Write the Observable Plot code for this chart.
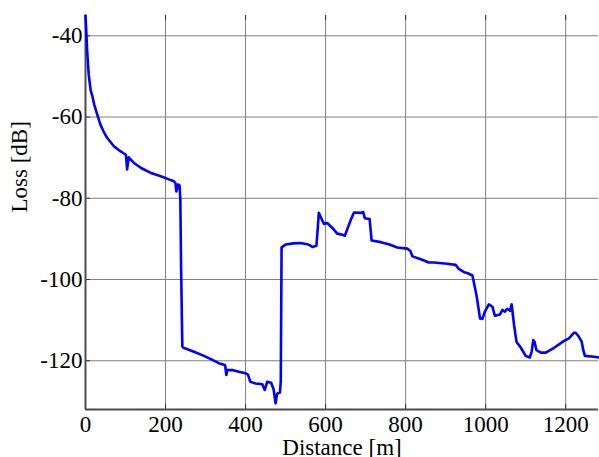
<!DOCTYPE html>
<html>
<head>
<meta charset="utf-8">
<script src="https://cdn.jsdelivr.net/npm/d3@7"></script>
<script src="https://cdn.jsdelivr.net/npm/@observablehq/plot@0.6"></script>
<style>
  html, body { margin: 0; padding: 0; background: #fff; }
  #chart svg { display: block; }
</style>
</head>
<body>
<div id="chart"></div>
<script>
const distance = [0,2,4,8,13,17,22,29,37,45,54,71,87,98,101,104,108,121,140,162,188,210,221,225,227,231,235,237,239,242,245,271,296,317,333,346,349,352,354,367,383,400,406,412,425,442,448,454,464,470,475,479,486,488,490,500,520,537,554,561,567,577,580,583,591,596,604,617,629,642,648,654,663,671,688,694,698,710,715,738,758,779,804,812,817,838,858,871,904,925,933,946,954,967,971,977,982,986,992,998,1008,1017,1023,1036,1042,1048,1054,1061,1065,1071,1077,1088,1100,1110,1115,1119,1122,1127,1138,1150,1171,1196,1208,1221,1225,1233,1240,1244,1248,1271,1282];
const loss = [-35,-39,-43.5,-49.5,-53.5,-54.8,-57,-59.3,-61.8,-63.5,-65.1,-67.2,-68.4,-69.1,-69.3,-72.9,-69.9,-71.3,-72.6,-73.7,-74.6,-75.4,-75.8,-76.3,-78.3,-76.6,-76.8,-80.3,-98,-116.5,-116.8,-117.8,-118.8,-119.8,-120.6,-121,-121.1,-123.5,-122.3,-122.3,-122.7,-123.1,-123.4,-125.2,-125.6,-125.8,-127.2,-125.2,-125.4,-127,-130.5,-128.1,-127.8,-125,-92.1,-91.4,-91.1,-91.0,-91.3,-91.6,-92,-91.7,-88,-83.6,-85.3,-86.3,-86.1,-87.3,-88.7,-89,-89.2,-87.7,-85.3,-83.5,-83.6,-83.4,-84.9,-85.1,-90.4,-90.8,-91.3,-92.1,-92.4,-93,-94.3,-95,-95.8,-95.8,-96.1,-96.4,-97.4,-98.2,-98.4,-99,-100.9,-103.8,-107,-109.6,-109.7,-107.9,-106.1,-106.7,-108.9,-108.6,-107.5,-107.9,-107.2,-107.7,-106.1,-111.2,-115.3,-116.8,-118.8,-119.2,-117.8,-114.9,-115.3,-117.4,-118,-118,-116.8,-115.1,-114.5,-113.1,-113.1,-114.1,-115.3,-117.4,-118.8,-119,-119.2];
const xTicks = [0,200,400,600,800,1000,1200];
const yTicks = [-40,-60,-80,-100,-120];
const xLabel = "Distance [m]";
const yLabel = "Loss [dB]";

const data = distance.map((d, i) => ({distance: d, loss: loss[i]}));
const xDomain = [0, 1282];
const yDomain = [-132, -35];
const serif = "Liberation Serif, Times New Roman, serif";
const tickLenY = (yDomain[1] - yDomain[0]) * 5 / 394;
const tickLenX = (xDomain[1] - xDomain[0]) * 5 / 513;

const chart = Plot.plot({
  width: 599,
  height: 457,
  marginLeft: 85,
  marginRight: 1,
  marginTop: 15,
  marginBottom: 48,
  style: {fontFamily: serif, fontSize: "23px", color: "#000", background: "#fff", overflow: "visible"},
  x: {domain: xDomain, axis: null},
  y: {domain: yDomain, axis: null},
  marks: [
    Plot.ruleX(xTicks.filter(d => d > 0), {x: d => d, stroke: "#808080", strokeWidth: 1}),
    Plot.ruleY(yTicks, {y: d => d, stroke: "#808080", strokeWidth: 1}),
    Plot.ruleX(xTicks.filter(d => d > 0), {x: d => d, y1: yDomain[0], y2: yDomain[0] + tickLenY, stroke: "#333", strokeWidth: 1}),
    Plot.ruleX(xTicks.filter(d => d > 0), {x: d => d, y1: yDomain[1], y2: yDomain[1] - tickLenY, stroke: "#333", strokeWidth: 1}),
    Plot.ruleY(yTicks, {y: d => d, x1: xDomain[0], x2: xDomain[0] + tickLenX, stroke: "#333", strokeWidth: 1}),
    Plot.ruleX([xDomain[0]], {stroke: "#4d4d4d", strokeWidth: 2}),
    Plot.ruleY([yDomain[0]], {stroke: "#4d4d4d", strokeWidth: 2}),
    Plot.line(data, {x: "distance", y: "loss", stroke: "#0000ff", strokeWidth: 2.6, strokeLinejoin: "round"}),
    Plot.text(xTicks, {x: d => d, frameAnchor: "bottom", dy: 15, text: d => String(d), fontFamily: serif, fontSize: 23, fill: "#000", lineAnchor: "middle"}),
    Plot.text(yTicks, {y: d => d, frameAnchor: "left", dx: -3, textAnchor: "end", text: d => String(d), fontFamily: serif, fontSize: 23, fill: "#000"}),
    Plot.text([xLabel], {frameAnchor: "bottom", dy: 45, text: d => d, fontFamily: serif, fontSize: 23, fill: "#000"}),
    Plot.text([yLabel], {frameAnchor: "left", dx: -66, rotate: -90, text: d => d, fontFamily: serif, fontSize: 23, fill: "#000"})
  ]
});
document.getElementById("chart").appendChild(chart);
</script>
</body>
</html>
